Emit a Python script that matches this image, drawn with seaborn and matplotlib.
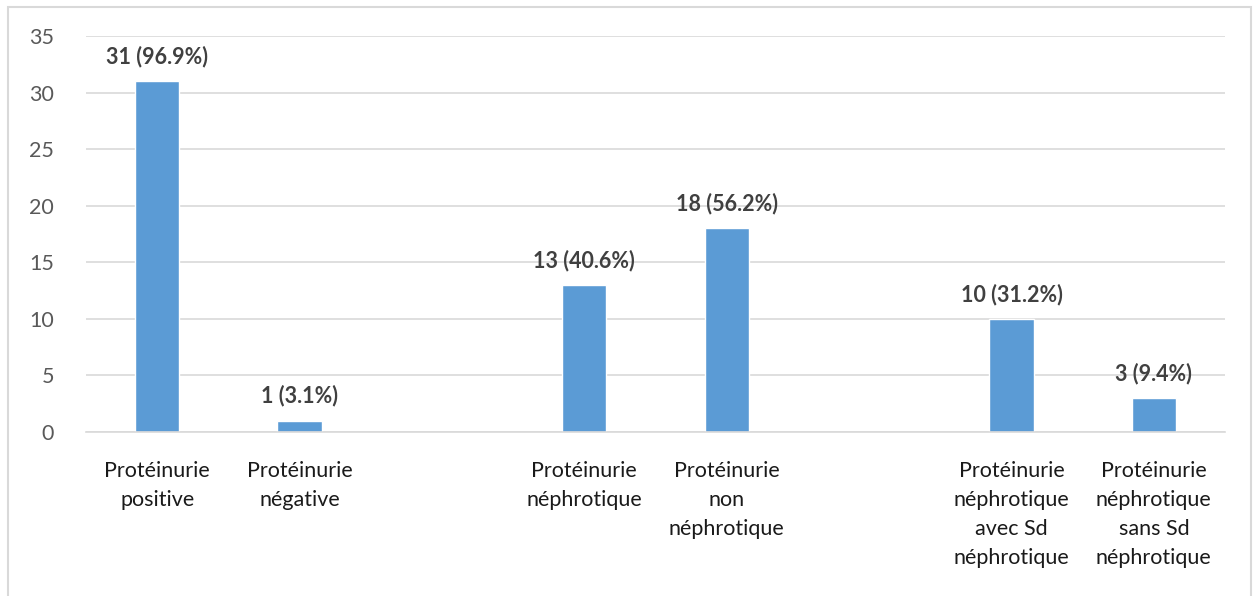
import matplotlib
matplotlib.use("Agg")
import matplotlib.pyplot as plt
import seaborn as sns
import pandas as pd
import numpy as np

categories = [
    "Protéinurie\npositive",
    "Protéinurie\nnégative",
    " ",
    "Protéinurie\nnéphrotique",
    "Protéinurie\nnon\nnéphrotique",
    "  ",
    "Protéinurie\nnéphrotique\navec Sd\nnéphrotique",
    "Protéinurie\nnéphrotique\nsans Sd\nnéphrotique",
]
counts = [31, 1, np.nan, 13, 18, np.nan, 10, 3]
percents = ["96.9%", "3.1%", "", "40.6%", "56.2%", "", "31.2%", "9.4%"]

df = pd.DataFrame({"categorie": categories, "effectif": counts})

sns.set_theme(style="white")
plt.rcParams["font.family"] = ["Lato", "DejaVu Sans"]

fig = plt.figure(figsize=(12.53, 5.96), dpi=100)
ax = fig.add_axes([0.0686, 0.2752, 0.9091, 0.6644])

sns.barplot(data=df.dropna(), x="categorie", y="effectif", order=categories,
            color="#5b9bd5", saturation=1, width=0.31, ax=ax)

ax.set_ylim(0, 35)
ax.set_xlim(-0.5, len(categories) - 0.5)
ax.set_yticks(range(0, 36, 5))
ax.yaxis.grid(True, color="#d9d9d9", linewidth=1.2)
ax.set_axisbelow(True)
for s in ["top", "right", "left"]:
    ax.spines[s].set_visible(False)
ax.spines["bottom"].set_color("#d9d9d9")
ax.spines["bottom"].set_linewidth(1.2)
ax.set_xlabel("")
ax.set_ylabel("")
ax.tick_params(axis="y", length=0, pad=23, labelsize=15.5, labelcolor="#595959")
ax.tick_params(axis="x", length=0, pad=21, labelsize=15.5, labelcolor="#1a1a1a")
for t in ax.get_xticklabels():
    t.set_linespacing(1.55)

for i, (v, p) in enumerate(zip(counts, percents)):
    if np.isnan(v):
        continue
    ax.annotate(f"{int(v)} ({p})", xy=(i, v), xytext=(0, 10), textcoords="offset points",
                ha="center", va="bottom", fontsize=15.5, fontweight="bold", color="#404040")

# light frame around the whole chart
fig.patches.append(plt.Rectangle((0.0064, -0.01), 0.992, 0.998, transform=fig.transFigure,
                                 fill=False, edgecolor="#d9d9d9", linewidth=1.5))

fig.savefig("out.png", dpi=100)
